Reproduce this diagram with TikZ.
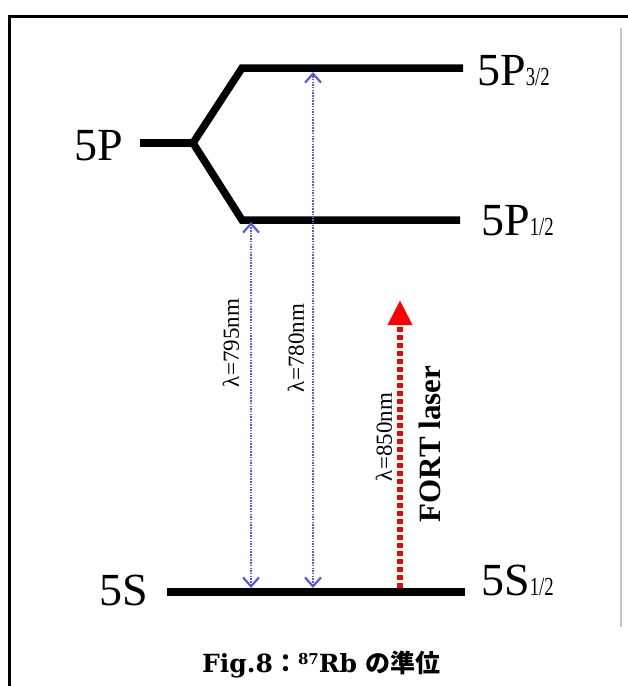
\documentclass[tikz,border=0pt]{standalone}
\usepackage{fontspec}
\usepackage{graphicx}
\setmainfont{Liberation Serif}
\newfontfamily\capfont{DejaVu Serif}
\newfontfamily\cjkfont{Noto Sans CJK JP}
\usetikzlibrary{arrows.meta}
\newcommand\levfont{\fontsize{46}{46}\selectfont}
\newcommand\levsub[1]{\scalebox{0.72}[1]{\fontsize{26}{26}\selectfont #1}}
\definecolor{transblue}{RGB}{90,90,225}
\begin{document}
\begin{tikzpicture}[x=1pt,y=-1pt,
  level/.style={line width=7.5pt},
  levlabel/.style={anchor=base west,inner sep=0pt,font=\levfont},
  trans/.style={transblue,line width=2.2pt,dash pattern=on 1.5pt off 1.2pt,
    {Straight Barb[length=9pt,width=16pt,line width=2.2pt]}-{Straight Barb[length=9pt,width=16pt,line width=2.2pt]}},
  fort/.style={red,line width=6pt,dash pattern=on 5pt off 3pt,
    -{Triangle[length=25pt,width=23pt]}},
  rotlabel/.style={rotate=90,inner sep=0pt,font=\fontsize{23}{23}\selectfont}]
\useasboundingbox (0,0) rectangle (628,686);
\fill[white] (0,0) rectangle (628,686);
% frame
\draw[line width=3pt] (8,16) -- (628,16);
\draw[line width=3pt] (9.5,14.5) -- (9.5,686);
\draw[gray!45,line width=2.5pt] (621,28) -- (621,627);
% level coordinates
\coordinate (p0) at (140,143);
\coordinate (pj) at (193,143);
\coordinate (p3a) at (242,68);
\coordinate (p3b) at (463,68);
\coordinate (p1a) at (242,220);
\coordinate (p1b) at (460,220);
\coordinate (s0) at (167,592);
\coordinate (s1) at (465,592);
% levels
\draw[level] (p0) -- (pj);
\draw[level] (p3b) -- (p3a) -- (pj) -- (p1a) -- (p1b);
\draw[level] (s0) -- (s1);
% labels
\node[levlabel] (l5p) at (74,160) {5P};
\node[levlabel] (l5s) at (99,605) {5S};
\node[levlabel] (l5p32) at (477,85) {5P\levsub{3/2}};
\node[levlabel] (l5p12) at (481,235) {5P\levsub{1/2}};
\node[levlabel] (l5s12) at (481,595) {5S\levsub{1/2}};
% transitions
\coordinate (a795t) at (251,222);
\coordinate (a795b) at (251,588);
\coordinate (a780t) at (313,72);
\coordinate (a780b) at (313,588);
\coordinate (fb) at (400,588);
\coordinate (ft) at (400,300);
\draw[trans] (a795b) -- (a795t);
\draw[trans] (a780b) -- (a780t);
\draw[fort] (fb) -- (ft);
\node[rotlabel] (t795) at (231,343) {λ=795nm};
\node[rotlabel] (t780) at (296,348) {λ=780nm};
\node[rotlabel] (t850) at (384,437) {λ=850nm};
\node[rotate=90,inner sep=0pt,font=\bfseries\fontsize{31}{31}\selectfont] (tfort) at (430,444) {FORT laser};
% caption
\node[anchor=base west,inner sep=0pt] (cap) at (202,672)
  {\capfont\bfseries\fontsize{25}{25}\selectfont Fig.8{\cjkfont ：}\raisebox{8pt}{\fontsize{15}{15}\selectfont 87}Rb {\cjkfont の準位}};
\end{tikzpicture}
\end{document}
